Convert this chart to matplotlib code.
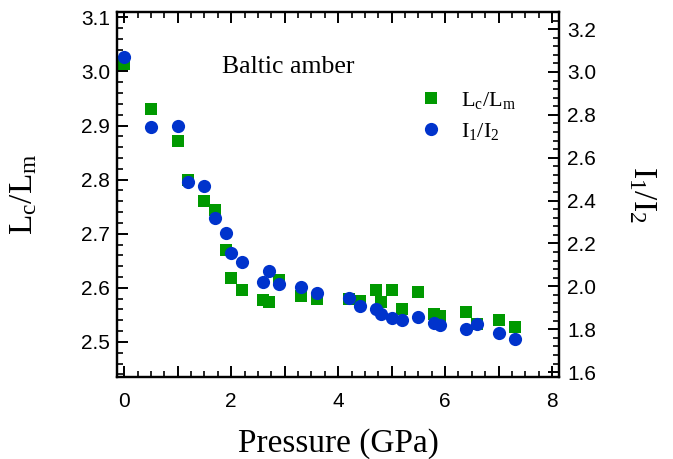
import matplotlib
matplotlib.use('Agg')
import matplotlib.pyplot as plt
from matplotlib.ticker import MultipleLocator, FuncFormatter

# pressure steps (GPa) and the two measured ratios
pressure = [0.0, 0.5, 1.0, 1.2, 1.5, 1.7, 1.9, 2.0, 2.2, 2.6, 2.7, 2.9, 3.3, 3.6,
            4.2, 4.4, 4.7, 4.8, 5.0, 5.2, 5.5, 5.8, 5.9, 6.4, 6.6, 7.0, 7.3]
lc_lm = [3.014, 2.930, 2.872, 2.800, 2.760, 2.743, 2.670, 2.618, 2.596, 2.578,
         2.574, 2.615, 2.584, 2.579, 2.579, 2.575, 2.595, 2.573, 2.596, 2.561,
         2.592, 2.551, 2.547, 2.556, 2.533, 2.541, 2.527]
i1_i2 = [3.069, 2.742, 2.748, 2.488, 2.469, 2.317, 2.247, 2.154, 2.115, 2.021,
         2.071, 2.011, 1.995, 1.967, 1.947, 1.908, 1.893, 1.869, 1.851, 1.843,
         1.855, 1.827, 1.819, 1.799, 1.823, 1.783, 1.754]

green = '#009900'
blue = '#0033cc'

plt.rcParams['font.family'] = 'Liberation Sans'
plt.rcParams['mathtext.fontset'] = 'custom'
plt.rcParams['mathtext.rm'] = 'Liberation Serif'
plt.rcParams['mathtext.it'] = 'Liberation Serif:italic'
plt.rcParams['axes.linewidth'] = 1.6

fig = plt.figure(figsize=(6.73, 4.59), dpi=100)
ax = fig.add_axes([0.1738, 0.1786, 0.6568, 0.7953])
ax2 = ax.twinx()

h1, = ax.plot(pressure, lc_lm, 's', color=green, ms=9, mec=green, mew=0,
              label='L$_{\\rm c}$/L$_{\\rm m}$')
h2, = ax2.plot(pressure, i1_i2, 'o', color=blue, ms=9.5, mec=blue, mew=0,
               label='I$_{\\rm 1}$/I$_{\\rm 2}$')

ax.set_xlim(-0.136, 8.13)
ax.set_ylim(2.435, 3.11)
ax2.set_ylim(1.577, 3.28)

ax.xaxis.set_major_locator(MultipleLocator(1))
ax.xaxis.set_minor_locator(MultipleLocator(0.25))
ax.xaxis.set_major_formatter(FuncFormatter(lambda v, p: '%d' % v if round(v) % 2 == 0 else ''))
ax.yaxis.set_major_locator(MultipleLocator(0.1))
ax.yaxis.set_minor_locator(MultipleLocator(0.02))
ax2.yaxis.set_major_locator(MultipleLocator(0.2))
ax2.yaxis.set_minor_locator(MultipleLocator(0.04))
ax2.yaxis.set_major_formatter(FuncFormatter(lambda v, p: '%.1f' % v))

ax.tick_params(axis='x', which='both', direction='in', top=True, bottom=True,
               labelsize=15, pad=11)
ax.tick_params(axis='y', which='both', direction='in', left=True, right=False,
               labelsize=15, pad=5)
ax2.tick_params(axis='y', which='both', direction='in', right=True, left=False,
                labelsize=15, pad=6)
for a in (ax, ax2):
    a.tick_params(which='major', length=8, width=1.4)
    a.tick_params(which='minor', length=4.5, width=1.2)

ax.set_xlabel('Pressure (GPa)', family='Liberation Serif', fontsize=24, labelpad=12)
ax.set_ylabel('L$_{\\rm c}$/L$_{\\rm m}$', family='Liberation Serif', fontsize=24, labelpad=30)
ax2.set_ylabel('I$_{\\rm 1}$/I$_{\\rm 2}$', family='Liberation Serif', fontsize=24,
               rotation=270, labelpad=44)

ax.text(0.2376, 0.833, 'Baltic amber', transform=ax.transAxes,
        family='Liberation Serif', fontsize=18.5)

ax2.legend(handles=[h1, h2], loc='upper left', bbox_to_anchor=(0.66, 0.818),
           frameon=False, prop={'family': 'Liberation Serif', 'size': 16},
           handlelength=1.0, handletextpad=0.85, labelspacing=0.45, borderpad=0)

fig.savefig('out.png', dpi=100)
